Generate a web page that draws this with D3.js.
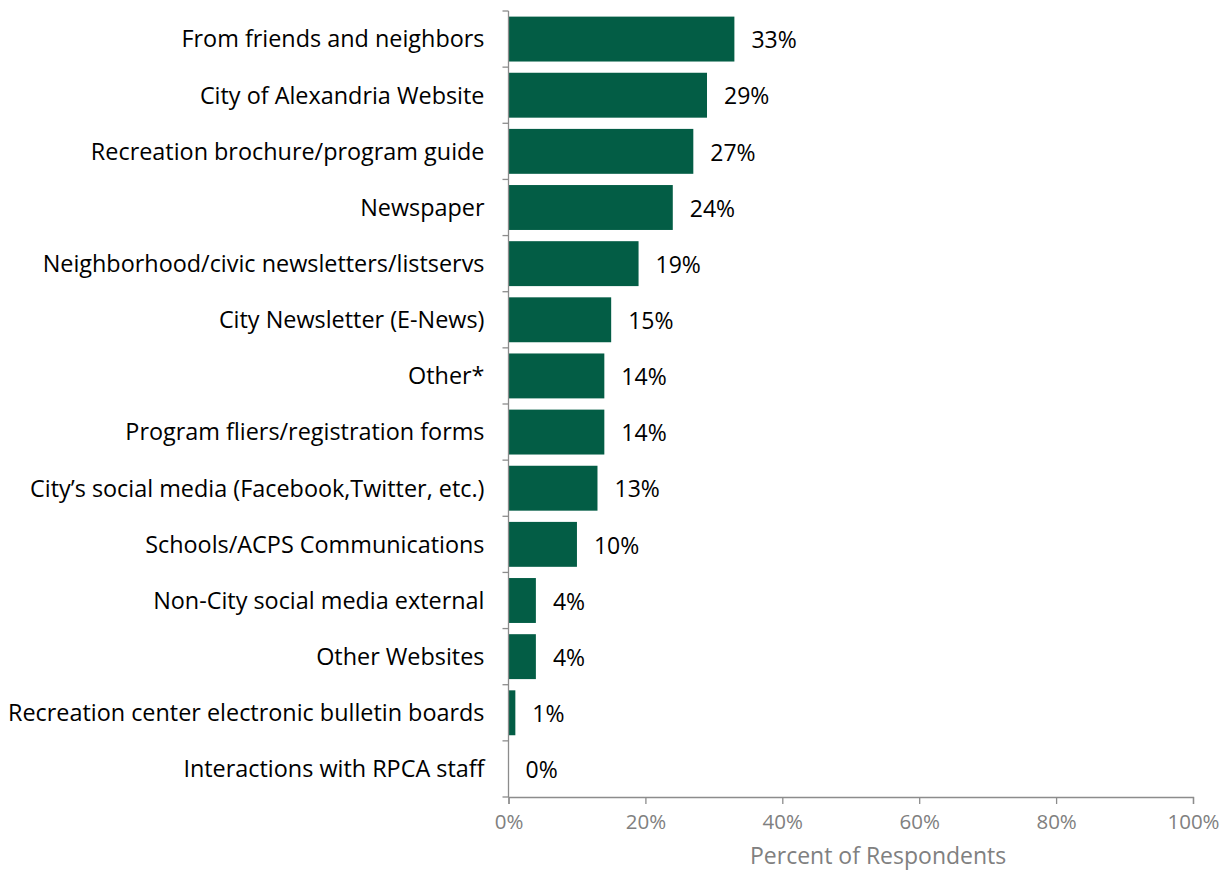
<!DOCTYPE html>
<html>
<head>
<meta charset="utf-8">
<script src="https://cdn.jsdelivr.net/npm/d3@7"></script>
<style>
  body { margin: 0; background: #fff; }
  text { font-family: "Open Sans", Lato, sans-serif; }
</style>
</head>
<body>
<div class="app"></div>
<script>
// Chart data
var categories = [
  "From friends and neighbors",
  "City of Alexandria Website",
  "Recreation brochure/program guide",
  "Newspaper",
  "Neighborhood/civic newsletters/listservs",
  "City Newsletter (E-News)",
  "Other*",
  "Program fliers/registration forms",
  "City\u2019s social media (Facebook,Twitter, etc.)",
  "Schools/ACPS Communications",
  "Non-City social media external",
  "Other Websites",
  "Recreation center electronic bulletin boards",
  "Interactions with RPCA staff"
];
var percents = [33, 29, 27, 24, 19, 15, 14, 14, 13, 10, 4, 4, 1, 0];
var xTicks = [0, 20, 40, 60, 80, 100];
var xTitle = "Percent of Respondents";

var W = 1232, H = 871,
    margin = {top: 11, right: 39, bottom: 74, left: 508.5},
    width = W - margin.left - margin.right,
    height = H - margin.top - margin.bottom;

var svg = d3.select(".app").append("svg")
    .attr("width", W)
    .attr("height", H);

var g = svg.append("g")
    .attr("transform", "translate(" + margin.left + "," + margin.top + ")");

var x = d3.scaleLinear().domain([0, 100]).range([0, width]);
var y = d3.scaleBand().domain(categories).range([0, height]).paddingInner(0.2).paddingOuter(0.1);

var data = categories.map(function(c, i) { return {name: c, value: percents[i]}; });

// bars
g.selectAll("rect.bar")
    .data(data)
    .enter()
    .append("rect")
    .attr("class", "bar")
    .attr("x", 0)
    .attr("y", function(d) { return y(d.name); })
    .attr("width", function(d) { return x(d.value); })
    .attr("height", y.bandwidth())
    .attr("fill", "#035d45");

// value labels
g.selectAll("text.val")
    .data(data)
    .enter()
    .append("text")
    .attr("class", "val")
    .attr("x", function(d) { return x(d.value) + 17; })
    .attr("y", function(d) { return y(d.name) + y.bandwidth() / 2 + 1; })
    .attr("dy", "0.36em")
    .style("font-size", "23px")
    .attr("fill", "#000")
    .text(function(d) { return d.value + "%"; });

// y axis (ticks between categories)
var step = y.step();
var yAxis = g.append("g").attr("class", "axis axis--y");
yAxis.append("line")
    .attr("x1", 0).attr("x2", 0)
    .attr("y1", 0).attr("y2", height)
    .attr("stroke", "#8c8c8c").attr("stroke-width", 1.3);
yAxis.selectAll("line.tick")
    .data(d3.range(categories.length + 1))
    .enter()
    .append("line")
    .attr("class", "tick")
    .attr("x1", -6).attr("x2", 0)
    .attr("y1", function(i) { return i * step; })
    .attr("y2", function(i) { return i * step; })
    .attr("stroke", "#8c8c8c").attr("stroke-width", 1.3);
yAxis.selectAll("text")
    .data(categories)
    .enter()
    .append("text")
    .attr("x", -24)
    .attr("y", function(c) { return y(c) + y.bandwidth() / 2; })
    .attr("dy", "0.36em")
    .attr("text-anchor", "end")
    .style("font-size", "23.4px")
    .attr("fill", "#000")
    .text(function(c) { return c; });

// x axis
var xAxis = d3.axisBottom(x)
    .tickValues(xTicks)
    .tickSize(7)
    .tickFormat(function(d) { return d + "%"; });

var xg = g.append("g")
    .attr("class", "axis axis--x")
    .attr("transform", "translate(0," + height + ")")
    .call(xAxis);
xg.select(".domain").attr("stroke", "#8c8c8c").attr("stroke-width", 1.3);
xg.selectAll(".tick line").attr("stroke", "#8c8c8c").attr("stroke-width", 1.3);
xg.selectAll(".tick text")
    .attr("y", 17)
    .attr("dy", "0.71em")
    .style("font-size", "20.5px")
    .style("font-family", "'Open Sans', Lato, sans-serif")
    .attr("fill", "#808080");

g.append("text")
    .attr("x", x(54))
    .attr("y", height + 67)
    .attr("text-anchor", "middle")
    .style("font-size", "23px")
    .attr("fill", "#808080")
    .text(xTitle);
</script>
</body>
</html>
